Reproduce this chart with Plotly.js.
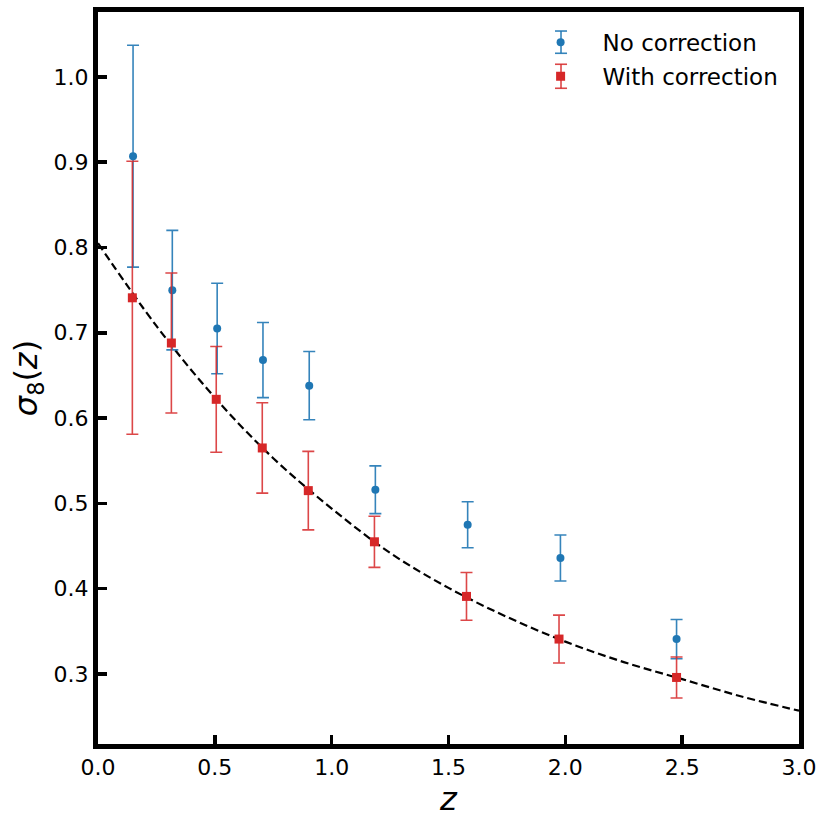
<!DOCTYPE html>
<html>
<head>
<meta charset="utf-8">
<script src="https://cdn.plot.ly/plotly-3.0.1.min.js"></script>
<style>html,body{margin:0;padding:0;background:#fff;}#chart{width:830px;height:830px;}</style>
</head>
<body>
<div id="chart"></div>
<script>
// Model curve (dashed)
const zCurve = [0.0, 0.25, 0.5, 0.75, 1.0, 1.25, 1.5, 1.75, 2.0, 2.25, 2.5, 2.75, 3.0];
const sigmaCurve = [0.805, 0.708, 0.624, 0.553, 0.494, 0.442, 0.401, 0.367, 0.338, 0.314, 0.294, 0.274, 0.257];

// "No correction" points
const zNo = [0.150, 0.318, 0.510, 0.706, 0.904, 1.187, 1.582, 1.979, 2.476];
const sigmaNo = [0.907, 0.750, 0.705, 0.668, 0.638, 0.516, 0.475, 0.436, 0.341];
const errNo = [0.130, 0.070, 0.053, 0.044, 0.040, 0.028, 0.027, 0.027, 0.023];

// "With correction" points
const zWith = [0.147, 0.314, 0.506, 0.703, 0.900, 1.183, 1.577, 1.973, 2.476];
const sigmaWith = [0.741, 0.688, 0.622, 0.565, 0.515, 0.455, 0.391, 0.341, 0.296];
const errWith = [0.160, 0.082, 0.062, 0.053, 0.046, 0.030, 0.028, 0.028, 0.024];

const xTicks = [0.0, 0.5, 1.0, 1.5, 2.0, 2.5, 3.0];
const yTicks = [0.3, 0.4, 0.5, 0.6, 0.7, 0.8, 0.9, 1.0];

const blue = '#1f77b4';
const red = '#d62728';
const blueErr = 'rgba(31,119,180,0.9)';
const redErr = 'rgba(214,39,40,0.85)';

const traces = [
  {
    x: zCurve, y: sigmaCurve, type: 'scatter', mode: 'lines',
    line: {color: 'black', width: 2.2, dash: '8px,4px', shape: 'spline'},
    showlegend: false, hoverinfo: 'skip'
  },
  {
    x: zNo, y: sigmaNo, type: 'scatter', mode: 'markers', name: 'No correction',
    legendgroup: 'a',
    marker: {color: blue, size: 8, symbol: 'circle'},
    error_y: {type: 'data', array: errNo, visible: true, color: blueErr, thickness: 1.6, width: 6}
  },
  {
    x: zWith, y: sigmaWith, type: 'scatter', mode: 'markers', name: 'With correction',
    legendgroup: 'b',
    marker: {color: red, size: 9, symbol: 'square'},
    error_y: {type: 'data', array: errWith, visible: true, color: redErr, thickness: 1.6, width: 6}
  }
];

const axisCommon = {
  showline: true, linewidth: 5, linecolor: 'black', mirror: true,
  ticks: 'inside', ticklen: 9, tickwidth: 3.5, tickcolor: 'black',
  showgrid: false, zeroline: false,
  tickfont: {family: 'DejaVu Sans', size: 22, color: 'black'},
  tickformat: '.1f'
};

// legend error-bar glyphs (paper coordinates)
function legendBar(xc, y0, y1, col) {
  const hw = 0.0086;
  const s = {type: 'line', xref: 'paper', yref: 'paper', line: {color: col, width: 1.6}};
  return [
    Object.assign({}, s, {x0: xc, x1: xc, y0: y0, y1: y1}),
    Object.assign({}, s, {x0: xc - hw, x1: xc + hw, y0: y0, y1: y0}),
    Object.assign({}, s, {x0: xc - hw, x1: xc + hw, y0: y1, y1: y1})
  ];
}
const legX = 0.6605;
const shapes = [].concat(
  legendBar(legX, 0.9436, 0.974, blueErr),
  legendBar(legX, 0.8958, 0.9286, redErr)
);

const layout = {
  width: 830, height: 830,
  margin: {l: 98, r: 31, t: 12, b: 86},
  paper_bgcolor: 'white', plot_bgcolor: 'white',
  font: {family: 'DejaVu Sans', color: 'black'},
  xaxis: Object.assign({}, axisCommon, {
    range: [0, 3], tickvals: xTicks,
    title: {text: '<i>z</i>', font: {family: 'DejaVu Sans', size: 32}, standoff: 4}
  }),
  yaxis: Object.assign({}, axisCommon, {
    range: [0.218, 1.076], tickvals: yTicks,
    title: {text: '<i>σ</i><sub>8</sub>(<i>z</i>)', font: {family: 'DejaVu Sans', size: 32}, standoff: 8}
  }),
  legend: {
    x: 0.60, xanchor: 'left', y: 0.988, yanchor: 'top',
    bgcolor: 'rgba(0,0,0,0)', borderwidth: 0,
    font: {family: 'DejaVu Sans', size: 23, color: 'black'},
    itemwidth: 74, traceorder: 'grouped', tracegroupgap: 1
  },
  shapes: shapes,
  showlegend: true
};

Plotly.newPlot('chart', traces, layout, {staticPlot: true, displayModeBar: false});
</script>
</body>
</html>
